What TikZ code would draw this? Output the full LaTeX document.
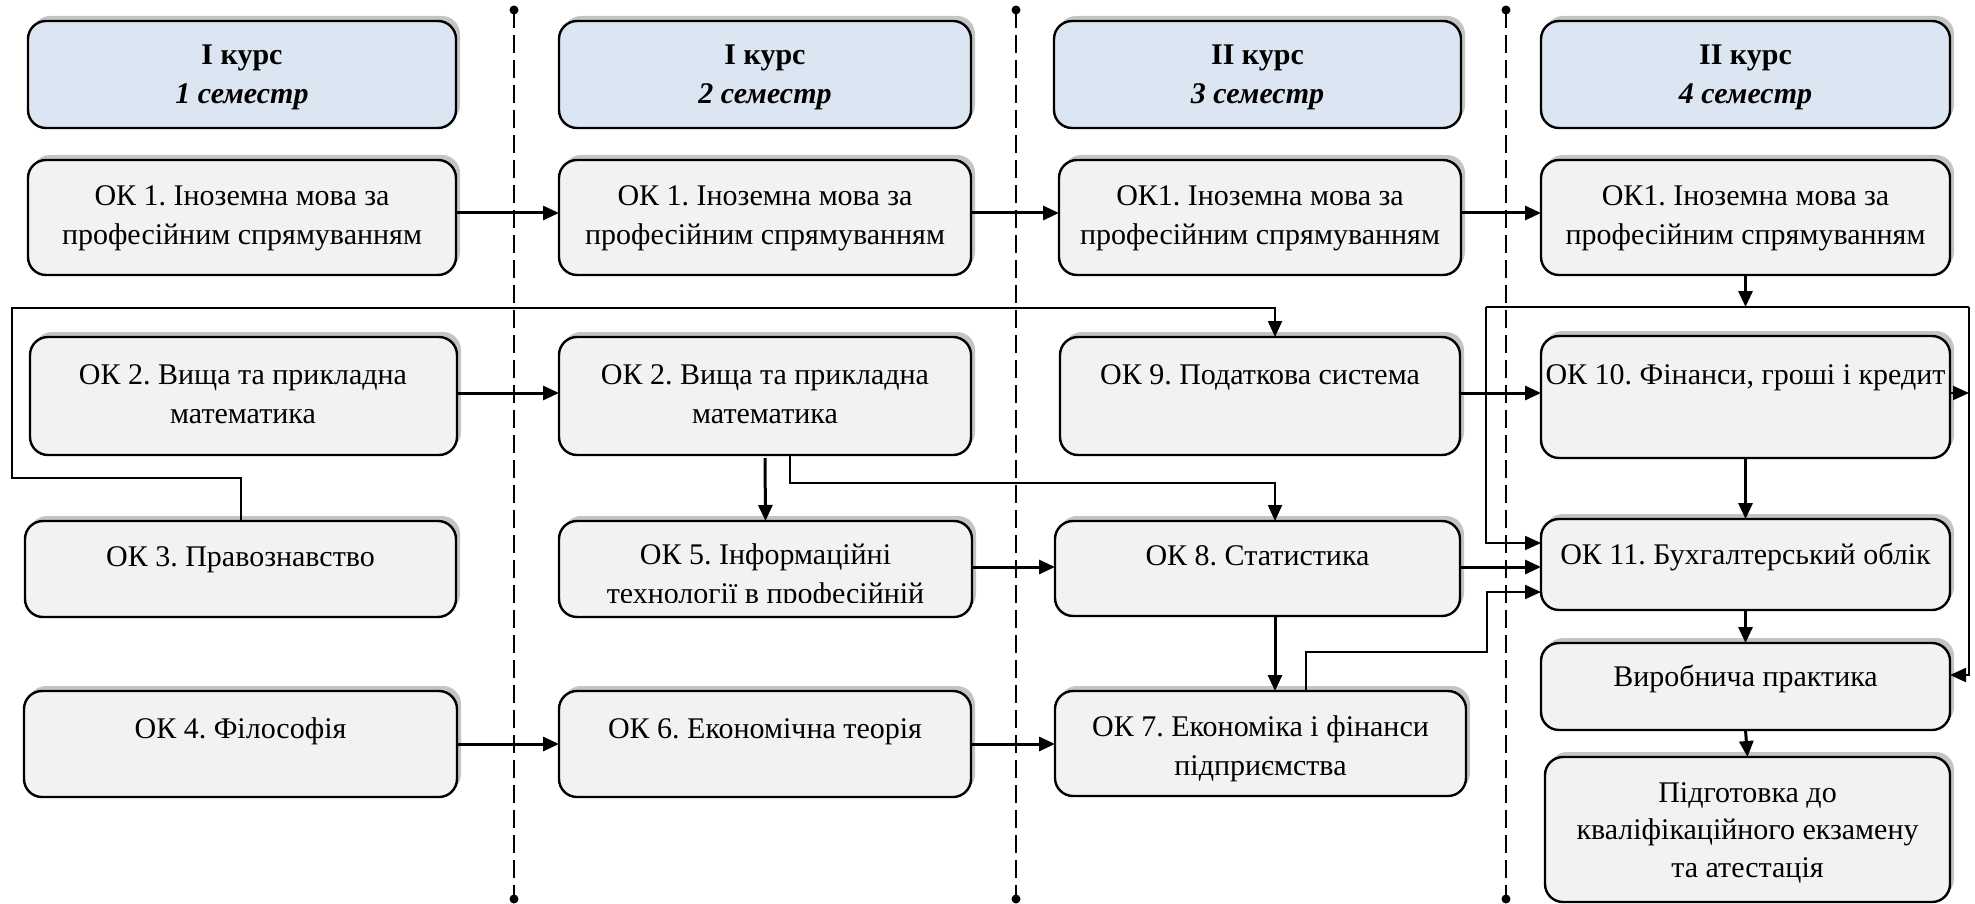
\documentclass[tikz,border=0pt]{standalone}
\usepackage{fontspec}
\setmainfont{Liberation Serif}
\usetikzlibrary{arrows.meta,shadows,calc}
\frenchspacing
\definecolor{boxgray}{HTML}{F2F2F2}
\definecolor{hdrblue}{HTML}{DCE6F2}
\definecolor{shadowgray}{HTML}{C4C4C4}
\tikzset{
  box/.style={draw=black, line width=2.4pt, rounded corners=18pt, fill=boxgray,
    inner sep=0pt, outer sep=0pt,
    general shadow={shadow xshift=4pt, shadow yshift=5pt, fill=shadowgray}},
  hdr/.style={box, fill=hdrblue},
  txt/.style={font=\fontsize{30}{39}\selectfont, align=center, inner sep=0pt},
  txtb/.style={font=\fontsize{30}{37.5}\selectfont, align=center, inner sep=0pt},
  thk/.style={line width=3pt, -{Triangle[length=16pt,width=14pt]}},
  thn/.style={line width=2pt, -{Triangle[length=16pt,width=14pt]}},
  thnl/.style={line width=2pt},
  sepline/.style={line width=2.7pt, dash pattern=on 18pt off 7pt},
}
\newcommand\mybox[6]{%
  \node[#6, minimum width=#4pt-#2pt, minimum height=#5pt-#3pt] (#1) at ({(#2+#4)/2},{(#3+#5)/2}) {};}
\newcommand\tln[1]{\strut#1}
\begin{document}
\begin{tikzpicture}[x=1pt,y=-1pt]
\useasboundingbox (0,0) rectangle (1975,904);

% separators
\foreach \x/\n in {514/1,1016/2,1506/3}{
  \coordinate (dt\n) at (\x,10);
  \coordinate (db\n) at (\x,899);
  \draw[sepline] (dt\n) -- (db\n);
  \fill (dt\n) circle (4.5pt);
  \fill (db\n) circle (4.5pt);
}

% headers
\mybox{h1}{28}{21}{456}{128}{hdr}
\mybox{h2}{559}{21}{971}{128}{hdr}
\mybox{h3}{1054}{21}{1461}{128}{hdr}
\mybox{h4}{1541}{21}{1950}{128}{hdr}
% row 1
\mybox{oka}{28}{160}{456}{275}{box}
\mybox{okb}{559}{160}{971}{275}{box}
\mybox{okc}{1059}{160}{1461}{275}{box}
\mybox{okd}{1541}{160}{1950}{275}{box}
% row 2
\mybox{ok2a}{30}{337}{457}{455}{box}
\mybox{ok2b}{559}{337}{971}{455}{box}
\mybox{ok9}{1060}{337}{1460}{455}{box}
\mybox{ok10}{1541}{336}{1950}{458}{box}
% row 3
\mybox{ok3}{25}{521}{456}{617}{box}
\mybox{ok5}{559}{521}{972}{617}{box}
\mybox{ok8}{1055}{521}{1460}{616}{box}
\mybox{ok11}{1541}{519}{1950}{610}{box}
% row 4
\mybox{ok4}{24}{691}{457}{797}{box}
\mybox{ok6}{559}{691}{971}{797}{box}
\mybox{ok7}{1055}{691}{1466}{796}{box}
\mybox{vp}{1541}{643}{1950}{730}{box}
\mybox{pd}{1545}{757}{1950}{902}{box}

% texts
\node[txt] (th1) at (242,76.5) {\tln{\textbf{І курс}}\\\tln{\textbf{\textit{1 семестр}}}};
\node[txt] (th2) at (765,76.5) {\tln{\textbf{І курс}}\\\tln{\textbf{\textit{2 семестр}}}};
\node[txt] (th3) at (1257.5,76.5) {\tln{\textbf{ІІ курс}}\\\tln{\textbf{\textit{3 семестр}}}};
\node[txt] (th4) at (1745.5,76.5) {\tln{\textbf{ІІ курс}}\\\tln{\textbf{\textit{4 семестр}}}};
\node[txt] (toka) at (242,217) {\tln{ОК 1. Іноземна мова за}\\\tln{професійним спрямуванням}};
\node[txt] (tokb) at (765,217) {\tln{ОК 1. Іноземна мова за}\\\tln{професійним спрямуванням}};
\node[txt] (tokc) at (1260,217) {\tln{ОК1. Іноземна мова за}\\\tln{професійним спрямуванням}};
\node[txt] (tokd) at (1745.5,217) {\tln{ОК1. Іноземна мова за}\\\tln{професійним спрямуванням}};
\node[txt] (t2a) at (243,396) {\tln{ОК 2. Вища та прикладна}\\\tln{математика}};
\node[txt] (t2b) at (765,396) {\tln{ОК 2. Вища та прикладна}\\\tln{математика}};
\node[txt] (t9) at (1260,377) {\tln{ОК 9. Податкова система}};
\node[txt] (t10) at (1745.5,377) {\tln{ОК 10. Фінанси, гроші і кредит}};
\node[txt] (t3) at (240.5,559) {\tln{ОК 3. Правознавство}};
\begin{scope}
  \clip (559,500) rectangle (972,602);
  \node[txt] (t5) at (765.5,576) {\tln{ОК 5. Інформаційні}\\\tln{технології в професійній}};
\end{scope}
\node[txt] (t8) at (1257.5,558) {\tln{ОК 8. Статистика}};
\node[txt] (t11) at (1745.5,557) {\tln{ОК 11. Бухгалтерський облік}};
\node[txt] (t4) at (240.5,731) {\tln{ОК 4. Філософія}};
\node[txt] (t6) at (765,731) {\tln{ОК 6. Економічна теорія}};
\node[txt] (t7) at (1260.5,748.5) {\tln{ОК 7. Економіка і фінанси}\\\tln{підприємства}};
\node[txt] (tvp) at (1745.5,679) {\tln{Виробнича практика}};
\node[txtb] (tpd) at (1747.5,832) {\tln{Підготовка до}\\\tln{кваліфікаційного екзамену}\\\tln{та атестація}};

% helper coordinates
\coordinate (r1) at (0,213);
\coordinate (r2) at (0,393);
\coordinate (r3) at (0,567);
\coordinate (r4) at (0,744);
\coordinate (c543) at (0,543);
\coordinate (c592) at (0,592);
\coordinate (c675) at (0,675);
\coordinate (x9) at (1275,0);
\coordinate (tl) at (1486,307);
\coordinate (tr) at (1969,307);
\coordinate (la) at (12,478);
\coordinate (lb) at (12,308);
\coordinate (m2) at (1275,483);
\coordinate (m7) at (1306,652);
\coordinate (b7) at (1487,652);

% horizontal arrows
\draw[thk] (oka.east |- r1) -- (okb.west |- r1);
\draw[thk] (okb.east |- r1) -- (okc.west |- r1);
\draw[thk] (okc.east |- r1) -- (okd.west |- r1);
\draw[thk] (ok2a.east |- r2) -- (ok2b.west |- r2);
\draw[thk] (ok9.east |- r2) -- (ok10.west |- r2);
\draw[thk] (ok5.east |- r3) -- (ok8.west |- r3);
\draw[thk] (ok8.east |- r3) -- (ok11.west |- r3);
\draw[thk] (ok4.east |- r4) -- (ok6.west |- r4);
\draw[thk] (ok6.east |- r4) -- (ok7.west |- r4);

% vertical arrows
\draw[thk] (okd.south) -- (okd.south |- tl);
\draw[thk] ([yshift=-3pt]ok2b.south) -- (ok5.north);
\draw[thk] (ok8.south -| x9) -- (ok7.north -| x9);
\draw[thk] (ok10.south) -- (ok11.north);
\draw[thk] (ok11.south) -- (vp.north);
\draw[thk] (vp.south) -- (pd.north);

% loops
\draw[thnl] (tl) -- (tr);
\draw[thn] (tl) |- (ok11.west |- c543);
\draw[thn] (tr) |- (vp.east |- c675);
\draw[thn] (ok10.east |- r2) -- (tr |- r2);
\draw[thn] (ok3.north) |- (la) -- (lb) -| (ok9.north -| x9);
\draw[thn] ([xshift=25pt]ok2b.south) |- (m2) -- (ok8.north -| m2);
\draw[thn] (ok7.north -| m7) -- (m7) -- (b7) |- (ok11.west |- c592);
\end{tikzpicture}
\end{document}
